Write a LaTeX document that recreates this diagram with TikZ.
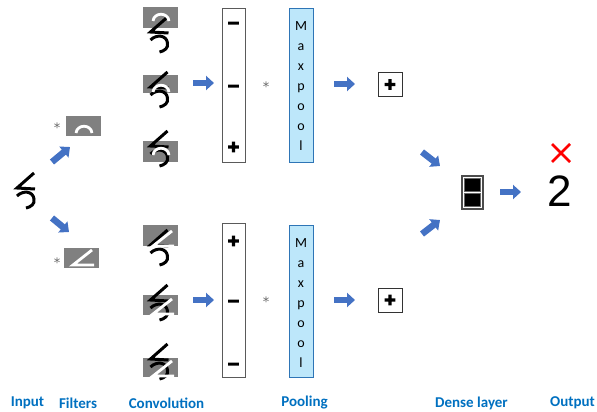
\documentclass[tikz,border=0pt]{standalone}
\usepackage{fontspec}
\setmainfont{Carlito}
\newfontfamily\signfont{DejaVu Sans Bold}
\newfontfamily\starfont{DejaVu Sans}
\newfontfamily\outfont{Liberation Sans}
\usetikzlibrary{arrows.meta}

% heavy glyphs: fill and stroke the outline
\newcommand\heavyglyph[1]{\special{pdf:literal direct 2 Tr 1.3 w}#1\special{pdf:literal direct 0 Tr}}

\definecolor{flowblue}{RGB}{68,114,196}
\definecolor{labelblue}{RGB}{0,112,192}
\definecolor{poolfill}{RGB}{189,231,250}
\definecolor{poolline}{RGB}{46,117,182}
\definecolor{filtergray}{RGB}{128,128,128}
\definecolor{signgray}{RGB}{90,90,90}

\tikzset{
  % handwritten digit: an angle stroke above a hook
  digitfive/.pic={
    \draw[line width=3pt, line join=miter] (7,-17) -- (-10,-2) -- (8,-1);
    \draw[line width=3pt] (-10,6) .. controls (-4,0) and (6,1) .. (7,9)
                          .. controls (8,14) and (4,17) .. (-1,18);
  },
  % white filter strokes
  arcmark/.pic={
    \draw[white, line width=2.8pt] (-8,3) .. controls (-7,-6) and (7,-6) .. (8,3);
  },
  anglemark/.pic={
    \draw[white, line width=2.8pt, line join=miter] (9,-8) -- (-10,7) -- (11,7);
  },
  graybox/.style={fill=filtergray, draw=none, inner sep=0pt},
  convbox/.style={draw=signgray, line width=0.9pt, fill=white, inner sep=0pt,
                  minimum width=23pt},
  poolbox/.style={draw=poolline, line width=0.9pt, fill=poolfill, inner sep=0pt,
                  minimum width=24pt},
  signbox/.style={draw=black!80, line width=1pt, fill=white, inner sep=0pt,
                  minimum width=24pt, minimum height=24pt},
  sign/.style={font=\signfont\fontsize{15}{15}\selectfont, inner sep=0pt},
  star/.style={font=\starfont\fontsize{13}{13}\selectfont, text=black!60, inner sep=0pt},
  pooltext/.style={font=\fontsize{14}{20}\selectfont, align=center, inner sep=0pt},
  caption/.style={font=\bfseries\fontsize{15}{15}\selectfont, text=labelblue, inner sep=0pt},
  flow/.style={draw=flowblue, line width=6.5pt, -{Triangle[length=8pt, width=14pt]}},
}

\begin{document}
\begin{tikzpicture}[x=1pt, y=-1pt]
\useasboundingbox (0,0) rectangle (597,412);

% input
\coordinate (input) at (27,190);
\pic at (input) {digitfive};

% filters
\node[star] (s1) at (57,128) {*};
\node[graybox, minimum width=35pt, minimum height=20pt] (f1) at (83.5,126) {};
\pic at (84,130) {arcmark};
\node[star] (s2) at (57,263) {*};
\node[graybox, minimum width=35pt, minimum height=20pt] (f2) at (81.5,258) {};
\pic at (83,258) {anglemark};

% convolution, upper branch
\node[graybox, minimum width=35pt, minimum height=21pt] (cu1) at (160.5,17.5) {};
\pic at (160.5,34) {digitfive};
\pic at (161,18) {arcmark};
\node[graybox, minimum width=35pt, minimum height=18pt] (cu2) at (160.5,84) {};
\pic at (160.5,89) {digitfive};
\pic at (161,89) {arcmark};
\node[graybox, minimum width=35pt, minimum height=21pt] (cu3) at (160.5,151.5) {};
\pic at (160.5,148) {digitfive};
\pic at (161,152) {arcmark};

% convolution, lower branch
\node[graybox, minimum width=35pt, minimum height=21pt] (cl1) at (160.5,235.5) {};
\pic at (160.5,247) {digitfive};
\pic at (163,239) {anglemark};
\node[graybox, minimum width=35pt, minimum height=20pt] (cl2) at (160.5,305) {};
\pic at (160.5,302) {digitfive};
\pic at (163,307) {anglemark};
\node[graybox, minimum width=35pt, minimum height=19pt] (cl3) at (160.5,367.5) {};
\pic at (160.5,361) {digitfive};
\pic at (163,369) {anglemark};

% feature columns
\node[convbox, minimum height=154pt] (fu) at (233.5,85) {};
\node[sign] at (233.5,25) {\heavyglyph{−}};
\node[sign] at (233.5,88) {\heavyglyph{−}};
\node[sign] at (233.5,147) {\heavyglyph{+}};
\node[convbox, minimum height=154pt] (fl) at (233.5,300) {};
\node[sign] at (233.5,241) {\heavyglyph{+}};
\node[sign] at (233.5,303) {\heavyglyph{−}};
\node[sign] at (233.5,366) {\heavyglyph{−}};

% pooling
\node[star] (s3) at (266,87) {*};
\node[poolbox, minimum height=154pt] (pu) at (301,85) {};
\node[pooltext] at (301,86.5) {M\\a\\x\\p\\o\\o\\l};
\node[star] (s4) at (266,302) {*};
\node[poolbox, minimum height=152pt] (pl) at (301,301) {};
\node[pooltext] at (301,303.5) {M\\a\\x\\p\\o\\o\\l};

% pooled values
\node[signbox] (ou) at (390,84.5) {};
\node[sign] at (390,84.5) {\heavyglyph{+}};
\node[signbox] (ol) at (390,300) {};
\node[sign] at (390,300) {\heavyglyph{+}};

% dense layer
\node[draw=black!70, line width=1.2pt, fill=white, minimum width=21pt,
      minimum height=33pt, inner sep=0pt] (dense) at (472.5,192.5) {};
\fill[black, draw=black!60, line width=0.6pt] (464.5,178.5) rectangle (480.5,191.5);
\fill[black, draw=black!60, line width=0.6pt] (464.5,193.5) rectangle (480.5,206.5);

% output
\node[font=\outfont\fontsize{44}{44}\selectfont, inner sep=0pt] (out) at (560,191) {2};
\coordinate (cross) at (561,153);
\draw[red, line width=2.6pt] ([shift={(-9,-9)}]cross) -- ([shift={(9,9)}]cross)
                             ([shift={(9,-9)}]cross) -- ([shift={(-9,9)}]cross);

% flow arrows
\coordinate (a1s) at (52,162);  \coordinate (a1e) at (70,147);
\coordinate (a2s) at (52,218);  \coordinate (a2e) at (69,232);
\coordinate (a3s) at (193,83);  \coordinate (a3e) at (214,83);
\coordinate (a4s) at (193,300); \coordinate (a4e) at (214,300);
\coordinate (a5s) at (334,84);  \coordinate (a5e) at (355,84);
\coordinate (a6s) at (334,300); \coordinate (a6e) at (355,300);
\coordinate (a7s) at (422,152); \coordinate (a7e) at (440,166);
\coordinate (a8s) at (422,234); \coordinate (a8e) at (440,220);
\coordinate (a9s) at (500,192); \coordinate (a9e) at (521,192);
\foreach \i in {1,...,9} \draw[flow] (a\i s) -- (a\i e);

% captions
\node[caption] (l1) at (27.5,403) {Input};
\node[caption] (l2) at (78,403) {Filters};
\node[caption] (l3) at (166.5,403) {Convolution};
\node[caption] (l4) at (304.5,403) {Pooling};
\node[caption] (l5) at (471.5,403) {Dense layer};
\node[caption] (l6) at (572.5,403) {Output};
\end{tikzpicture}
\end{document}
